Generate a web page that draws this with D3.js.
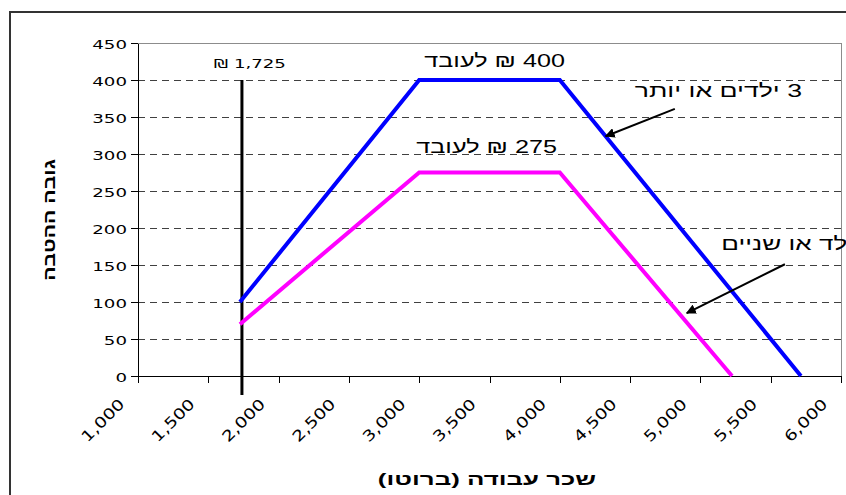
<!DOCTYPE html>
<html>
<head>
<meta charset="utf-8">
<script src="https://cdn.jsdelivr.net/npm/d3@7"></script>
<style>
  html, body { margin: 0; padding: 0; background: #fff; }
  svg { display: block; }
</style>
</head>
<body>
<div id="chart"></div>
<script>
// data
var xTicks = [1000, 1500, 2000, 2500, 3000, 3500, 4000, 4500, 5000, 5500, 6000];
var yTicks = [0, 50, 100, 150, 200, 250, 300, 350, 400, 450];

// 3 children or more
var wageBig = [1725, 3000, 4000, 5715];
var grantBig = [100, 400, 400, 0];
// one or two children
var wageSmall = [1725, 3000, 4000, 5225];
var grantSmall = [70, 275, 275, 0];

var thresholdWage = 1725;
var thresholdTop = 400;

var width = 846, height = 495;
var margin = { top: 43, right: 5, bottom: 119, left: 138 };
// text in the original is stretched along its baseline
var stretch = 1.4;

var svg = d3.select("#chart")
  .append("svg")
  .attr("width", width)
  .attr("height", height);

// outer chart border
svg.append("rect")
  .attr("x", 10).attr("y", 12)
  .attr("width", 900).attr("height", 600)
  .attr("fill", "none")
  .attr("stroke", "#333")
  .attr("stroke-width", 2);

var x = d3.scaleLinear().domain([1000, 6000]).range([margin.left, width - margin.right]);
var y = d3.scaleLinear().domain([0, 450]).range([height - margin.bottom, margin.top]);

// dashed gridlines
svg.append("g")
  .selectAll("line")
  .data(yTicks.filter(function(d) { return d > 0 && d < 450; }))
  .enter()
  .append("line")
  .attr("x1", x(1000)).attr("x2", x(6000))
  .attr("y1", function(d) { return y(d); })
  .attr("y2", function(d) { return y(d); })
  .attr("stroke", "#404040")
  .attr("stroke-dasharray", "7,5")
  .attr("shape-rendering", "crispEdges");

// plot area border top / right
svg.append("path")
  .attr("d", "M" + x(1000) + "," + y(450) + "H" + x(6000) + "V" + y(0))
  .attr("fill", "none")
  .attr("stroke", "#8c8c8c")
  .attr("shape-rendering", "crispEdges");

// axes
var yAxis = d3.axisLeft(y).tickValues(yTicks).tickSize(7).tickSizeOuter(0).tickFormat(d3.format("d"));
var gy = svg.append("g")
  .attr("transform", "translate(" + x(1000) + ",0)")
  .call(yAxis);
gy.select(".domain").attr("stroke", "#000").attr("shape-rendering", "crispEdges");
gy.selectAll(".tick line").attr("stroke", "#000").attr("shape-rendering", "crispEdges");
gy.selectAll(".tick text")
  .attr("x", null).attr("dy", null)
  .attr("transform", "translate(-11,5) scale(" + stretch + ",1)")
  .style("font-family", "DejaVu Sans, Verdana, sans-serif")
  .style("font-size", "13px")
  .attr("fill", "#000");

var xAxis = d3.axisBottom(x).tickValues(xTicks).tickSize(7).tickSizeOuter(0).tickFormat(d3.format(","));
var gx = svg.append("g")
  .attr("transform", "translate(0," + y(0) + ")")
  .call(xAxis);
gx.select(".domain").attr("stroke", "#000").attr("shape-rendering", "crispEdges");
gx.selectAll(".tick line").attr("stroke", "#000").attr("shape-rendering", "crispEdges");
gx.selectAll(".tick text")
  .attr("y", null).attr("dy", null)
  .attr("text-anchor", "end")
  .attr("transform", "translate(-13,29) rotate(-45) scale(1.25,1)")
  .style("font-family", "DejaVu Sans, Verdana, sans-serif")
  .style("font-size", "15px")
  .attr("fill", "#000");

// threshold line at 1,725
svg.append("line")
  .attr("x1", x(thresholdWage) + 2).attr("x2", x(thresholdWage) + 2)
  .attr("y1", y(thresholdTop)).attr("y2", y(0) + 19)
  .attr("stroke", "#000")
  .attr("stroke-width", 3);

svg.append("text")
  .attr("transform", "translate(" + (x(thresholdWage) + 46) + ",68) scale(" + stretch + ",1)")
  .attr("text-anchor", "end")
  .style("font-family", "DejaVu Sans, Verdana, sans-serif")
  .style("font-size", "13px")
  .text("\u20AA 1,725");

// series
var line = d3.line()
  .x(function(d) { return x(d[0]); })
  .y(function(d) { return y(d[1]); });

svg.append("path")
  .datum(wageSmall.map(function(w, i) { return [w, grantSmall[i]]; }))
  .attr("d", line)
  .attr("fill", "none")
  .attr("stroke", "#ff00ff")
  .attr("stroke-width", 4);

svg.append("path")
  .datum(wageBig.map(function(w, i) { return [w, grantBig[i]]; }))
  .attr("d", line)
  .attr("fill", "none")
  .attr("stroke", "#0000ff")
  .attr("stroke-width", 4);

// arrows
svg.append("defs").append("marker")
  .attr("id", "arrow")
  .attr("viewBox", "0 0 10 10")
  .attr("refX", 9).attr("refY", 5)
  .attr("markerWidth", 5).attr("markerHeight", 5)
  .attr("orient", "auto")
  .append("path")
  .attr("d", "M0,0L10,5L0,10z")
  .attr("fill", "#000");

var arrows = [
  { from: [4818, 361], to: [4326, 324] },
  { from: [5601, 151], to: [4903, 85] }
];
svg.selectAll(".arrow")
  .data(arrows)
  .enter()
  .append("line")
  .attr("class", "arrow")
  .attr("x1", function(d) { return x(d.from[0]); })
  .attr("y1", function(d) { return y(d.from[1]); })
  .attr("x2", function(d) { return x(d.to[0]); })
  .attr("y2", function(d) { return y(d.to[1]); })
  .attr("stroke", "#000")
  .attr("stroke-width", 2)
  .attr("marker-end", "url(#arrow)");

// annotations (right edge x, baseline y)
var notes = [
  { text: "400 \u20AA לעובד", x: 565, y: 67, size: 18, sx: 1.4 },
  { text: "275 \u20AA לעובד", x: 557, y: 153, size: 18, sx: 1.4 },
  { text: "3 ילדים או יותר", x: 802, y: 97, size: 18, sx: 1.48 },
  { text: "ילד או שניים", x: 854, y: 250, size: 18, sx: 1.45 }
];
svg.selectAll(".note")
  .data(notes)
  .enter()
  .append("text")
  .attr("class", "note")
  .attr("direction", "rtl")
  .attr("text-anchor", "start")
  .attr("transform", function(d) { return "translate(" + d.x + "," + d.y + ") scale(" + d.sx + ",1)"; })
  .style("font-family", "Liberation Sans, Arial, sans-serif")
  .style("font-size", function(d) { return d.size + "px"; })
  .text(function(d) { return d.text; });

// axis titles
svg.append("text")
  .attr("direction", "rtl")
  .attr("text-anchor", "middle")
  .attr("transform", "translate(487,485) scale(1.52,1)")
  .style("font-family", "Liberation Sans, Arial, sans-serif")
  .style("font-weight", "bold")
  .style("font-size", "17px")
  .text("שכר עבודה (ברוטו)");

svg.append("text")
  .attr("direction", "rtl")
  .attr("text-anchor", "middle")
  .attr("transform", "translate(55,220) rotate(-90) scale(1.25,1)")
  .style("font-family", "Liberation Sans, Arial, sans-serif")
  .style("font-weight", "bold")
  .style("font-size", "17px")
  .text("גובה ההטבה");
</script>
</body>
</html>
